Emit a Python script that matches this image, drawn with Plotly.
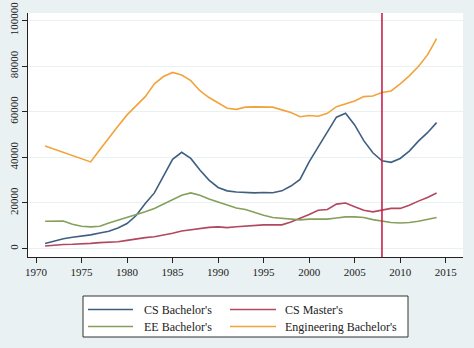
import plotly.graph_objects as go

# Degrees awarded per year, 1971-2014
years = list(range(1971, 2015))

cs_bachelors = [
    2200, 3300, 4300, 5000, 5400, 6000, 6800, 7600, 9000, 11000,
    14500, 19800, 24400, 31500, 39100, 42200, 39500, 34400, 30000, 26800,
    25300, 24800, 24500, 24400, 24600, 24500, 25300, 27400, 30300, 38000,
    44600, 50800, 57600, 59300, 54200, 47300, 42000, 38500, 37800, 39500,
    42700, 47100, 50800, 55200,
]
cs_masters = [
    1100, 1600, 1800, 1900, 2000, 2300, 2600, 2800, 3000, 3600,
    4300, 4800, 5200, 5800, 6700, 7700, 8300, 9000, 9300, 9500,
    9200, 9600, 9900, 10200, 10400, 10400, 10400, 11700, 13200, 14900,
    16800, 17100, 19500, 20000, 18300, 16800, 16100, 16800, 17600, 17600,
    19000, 20800, 22400, 24400,
]
ee_bachelors = [
    12000, 12000, 12100, 10700, 9800, 9500, 9800, 11200, 12400, 13900,
    14900, 16100, 17600, 19500, 21500, 23400, 24400, 23400, 21700, 20500,
    19000, 17800, 17100, 15800, 14600, 13600, 13200, 12700, 12600, 12900,
    13000, 12900, 13400, 13900, 13900, 13600, 12700, 12100, 11400, 11200,
    11400, 12000, 12700, 13600,
]
# No engineering totals for 1972-1975
eng_bachelors = [
    45000, None, None, None, None, 38000, 43300, 48600, 53600, 58600,
    62500, 66600, 72200, 75400, 77200, 76100, 73600, 69200, 66200, 63700,
    61500, 61000, 62000, 62100, 62200, 62000, 60800, 59600, 57800, 58300,
    58000, 59300, 62200, 63300, 64700, 66600, 66900, 68400, 69100, 72200,
    75700, 79800, 84900, 92000,
]

series_names = ["CS Bachelor's", "CS Master's", "EE Bachelor's", "Engineering Bachelor's"]
series_values = [cs_bachelors, cs_masters, ee_bachelors, eng_bachelors]
series_colors = ["#3f5f80", "#b2475e", "#84a05a", "#f2a33a"]

x_ticks = list(range(1970, 2020, 5))
y_ticks = list(range(0, 120000, 20000))
y_tick_labels = [str(v) for v in y_ticks]
marker_year = 2008

FONT = "Liberation Serif, Times New Roman, serif"
BG = "#e9f1f3"
W, H = 474, 348
ML, MR, MT, MB = 28, 11, 13, 91
PW, PH = W - ML - MR, H - MT - MB


def px_x(px):
    return (px - ML) / PW


def px_y(py):
    return (H - MB - py) / PH


fig = go.Figure()
for name, vals, col in zip(series_names, series_values, series_colors):
    fig.add_trace(go.Scatter(
        x=years, y=vals, name=name, mode="lines", connectgaps=True,
        line=dict(color=col, width=1.6), showlegend=False,
    ))

fig.add_vline(x=marker_year, line=dict(color="#c8244c", width=1.6), layer="above")

# Two-column key below the plot
fig.add_shape(type="rect", xref="paper", yref="paper",
              x0=px_x(83), x1=px_x(408), y0=px_y(337), y1=px_y(296),
              fillcolor="white", line=dict(color="#333333", width=1))
key_cols = [(88, 133, 142), (230, 276, 283)]
key_rows = [309.5, 326.5]
for i, (name, col) in enumerate(zip(series_names, series_colors)):
    lx0, lx1, tx = key_cols[i % 2]
    ry = key_rows[i // 2]
    fig.add_shape(type="line", xref="paper", yref="paper",
                  x0=px_x(lx0), x1=px_x(lx1), y0=px_y(ry), y1=px_y(ry),
                  line=dict(color=col, width=1.6))
    fig.add_annotation(xref="paper", yref="paper", x=px_x(tx), y=px_y(ry),
                       text=name, showarrow=False, xanchor="left", yanchor="middle",
                       font=dict(family=FONT, size=12, color="#222222"))

fig.update_layout(
    width=W, height=H,
    margin=dict(l=ML, r=MR, t=MT, b=MB, autoexpand=False),
    paper_bgcolor=BG, plot_bgcolor="white",
    font=dict(family=FONT, size=11, color="#222222"),
    xaxis=dict(
        range=[1969.12, 2016.9], tickvals=x_ticks, showgrid=False, zeroline=False,
        showline=True, linecolor="#222222", linewidth=1,
        ticks="outside", ticklen=5, tickcolor="#222222",
        tickfont=dict(size=11),
    ),
    yaxis=dict(
        range=[-3690, 103250], tickvals=y_ticks, ticktext=y_tick_labels, tickangle=-90,
        showgrid=True, gridcolor=BG, gridwidth=1, zeroline=False,
        showline=True, linecolor="#222222", linewidth=1,
        ticks="outside", ticklen=5, tickcolor="#222222",
        tickfont=dict(size=11),
    ),
)

fig.write_html("out.html")
